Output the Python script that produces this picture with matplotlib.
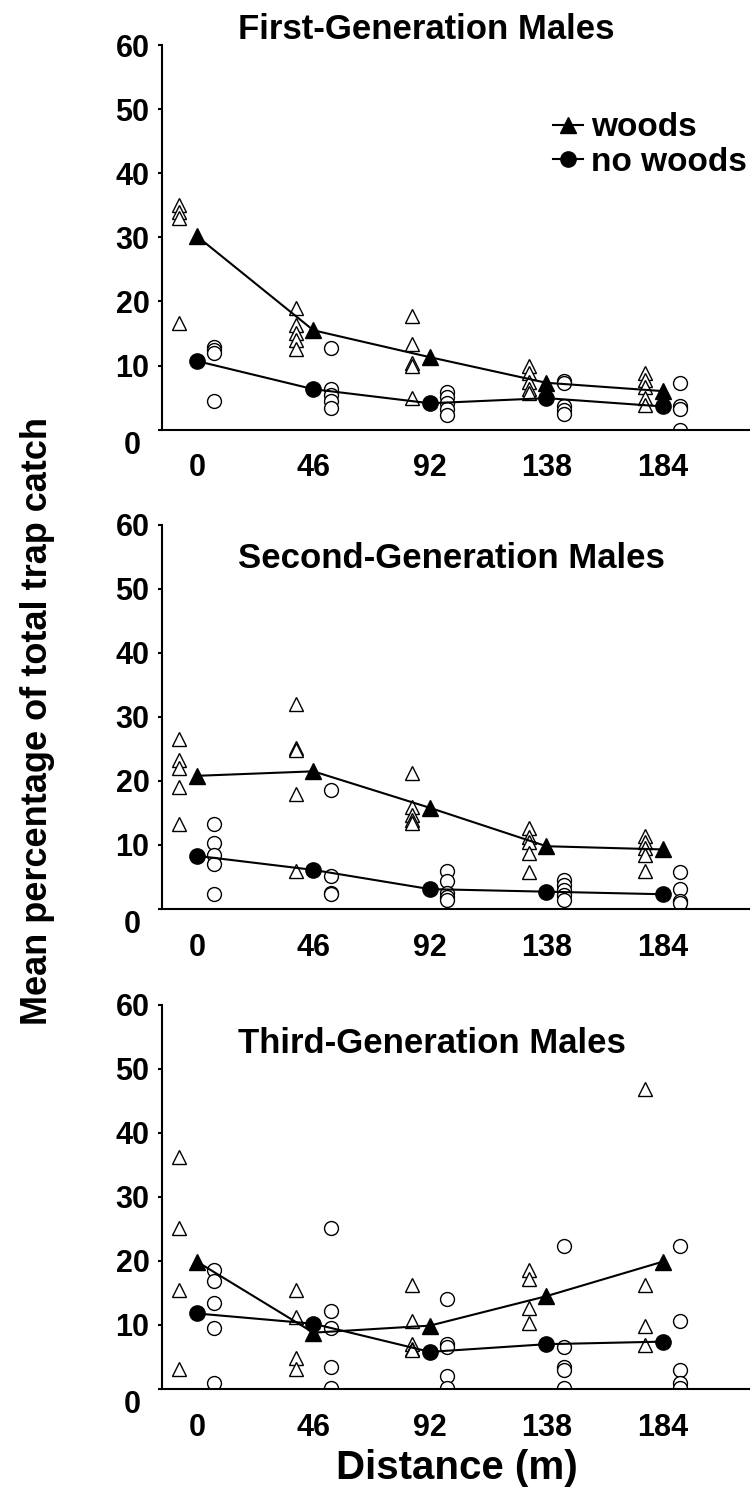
import matplotlib
matplotlib.use('Agg')
import matplotlib.pyplot as plt
from matplotlib.lines import Line2D
from matplotlib.transforms import ScaledTranslation

plt.rcParams['font.family'] = ['Liberation Sans', 'DejaVu Sans']
plt.rcParams['font.weight'] = 'bold'

distances = [0, 46, 92, 138, 184]
y_ticks = [0, 10, 20, 30, 40, 50, 60]
titles = ['First-Generation Males', 'Second-Generation Males', 'Third-Generation Males']

# single traps per distance (open symbols) and means (filled symbols)
first_woods = [[35.0, 34.0, 33.0, 16.6], [19.0, 16.3, 15.1, 14.0, 12.6],
               [17.7, 13.4, 10.4, 9.9, 5.0], [10.0, 8.8, 7.5, 6.3, 5.7],
               [8.8, 7.7, 6.7, 4.9, 3.8]]
first_woods_mean = [30.2, 15.5, 11.3, 7.3, 6.0]
first_nowoods = [[12.9, 12.4, 11.9, 4.5], [12.8, 6.3, 5.4, 4.4, 3.3],
                 [5.9, 5.1, 4.1, 3.2, 2.3], [7.6, 7.3, 3.6, 3.0, 2.5],
                 [7.3, 3.6, 3.2, 0.0]]
first_nowoods_mean = [10.7, 6.3, 4.1, 4.9, 3.6]

second_woods = [[26.6, 23.3, 22.0, 19.0, 13.3], [32.0, 25.1, 24.8, 18.0, 5.9],
                [21.2, 16.0, 14.7, 13.9, 13.4], [12.6, 11.3, 10.5, 8.8, 5.7],
                [11.4, 10.5, 9.5, 8.4, 5.9]]
second_woods_mean = [20.8, 21.5, 15.8, 9.8, 9.3]
second_nowoods = [[13.3, 10.3, 8.4, 7.1, 2.3], [18.6, 5.1, 2.5, 2.3],
                  [5.9, 4.3, 2.5, 1.8, 1.4], [4.6, 3.75, 3.0, 2.2, 1.4],
                  [5.8, 3.1, 1.3, 0.9]]
second_nowoods_mean = [8.3, 6.1, 3.1, 2.7, 2.3]

third_woods = [[36.3, 25.1, 15.5, 3.2], [15.5, 11.3, 4.8, 3.1],
               [16.3, 10.7, 7.0, 6.3, 6.1], [18.6, 17.2, 12.6, 10.3],
               [46.8, 16.3, 9.9, 6.9]]
third_woods_mean = [19.9, 8.8, 9.9, 14.5, 19.9]
third_nowoods = [[18.6, 16.8, 13.5, 9.5, 0.9], [25.1, 12.2, 9.5, 3.4, 0.2],
                 [14.0, 7.1, 6.5, 2.0, 0.2], [22.4, 6.5, 3.4, 2.9, 0.1],
                 [22.4, 10.7, 3.0, 0.9, 0.1]]
third_nowoods_mean = [11.8, 10.2, 5.8, 7.0, 7.4]

panels = [
    (first_woods, first_woods_mean, first_nowoods, first_nowoods_mean),
    (second_woods, second_woods_mean, second_nowoods, second_nowoods_mean),
    (third_woods, third_woods_mean, third_nowoods, third_nowoods_mean),
]

shift = 6.9  # open symbols drawn either side of the distance
bottoms = [0.7127, 0.3920, 0.0709]
title_y = [1.0174, 0.888, 0.875]

fig = plt.figure(figsize=(7.53, 14.95), dpi=100)

for k, (woods, woods_mean, nowoods, nowoods_mean) in enumerate(panels):
    ax = fig.add_axes([0.2151, bottoms[k], 0.7795, 0.2569])

    for d, vals in zip(distances, woods):
        ax.plot([d - shift] * len(vals), vals, linestyle='none', marker='^', ms=10,
                mfc='white', mec='black', mew=1, zorder=2)
    for d, vals in zip(distances, nowoods):
        ax.plot([d + shift] * len(vals), vals, linestyle='none', marker='o', ms=10,
                mfc='white', mec='black', mew=1, zorder=2)

    ax.plot(distances, woods_mean, color='black', lw=1.5, marker='^', ms=11,
            mfc='black', mec='black', zorder=3)
    ax.plot(distances, nowoods_mean, color='black', lw=1.5, marker='o', ms=11,
            mfc='black', mec='black', zorder=3)

    ax.set_xlim(-13.8, 218)
    ax.set_ylim(0, 60)
    ax.set_xticks(distances)
    ax.set_yticks(y_ticks)
    ax.spines['top'].set_visible(False)
    ax.spines['right'].set_visible(False)
    ax.spines['left'].set_linewidth(1.5)
    ax.spines['bottom'].set_linewidth(1.5)
    ax.tick_params(axis='y', direction='out', length=3, width=1.5, pad=6, labelsize=22)
    ax.tick_params(axis='x', length=0, pad=17, labelsize=22)
    for lab in ax.get_xticklabels() + ax.get_yticklabels():
        lab.set_fontweight('bold')

    ax.text(0.1295, title_y[k], titles[k], transform=ax.transAxes, ha='left',
            va='baseline', fontsize=25, fontweight='bold', clip_on=False)

    # the "0" on the value axis sits a little lower and further left
    zero = ax.yaxis.get_major_ticks()[0].label1
    zero.set_transform(zero.get_transform() +
                       ScaledTranslation(-0.09, -0.125, fig.dpi_scale_trans))

    if k == 0:
        handles = [Line2D([], [], color='black', lw=1.5, marker='^', ms=11),
                   Line2D([], [], color='black', lw=1.5, marker='o', ms=11)]
        ax.legend(handles, ['woods', 'no woods'], loc='upper left',
                  bbox_to_anchor=(0.666, 0.826), frameon=False, borderpad=0,
                  borderaxespad=0, handlelength=0.9, handletextpad=0.25,
                  labelspacing=0.1, prop={'size': 24, 'weight': 'bold'})

fig.text(0.05, 0.518, 'Mean percentage of total trap catch', rotation=90,
         ha='center', va='center', fontsize=26, fontweight='bold')
fig.text(0.607, 0.018, 'Distance (m)', ha='center', va='center',
         fontsize=29, fontweight='bold')

fig.savefig('out.png', dpi=100)
